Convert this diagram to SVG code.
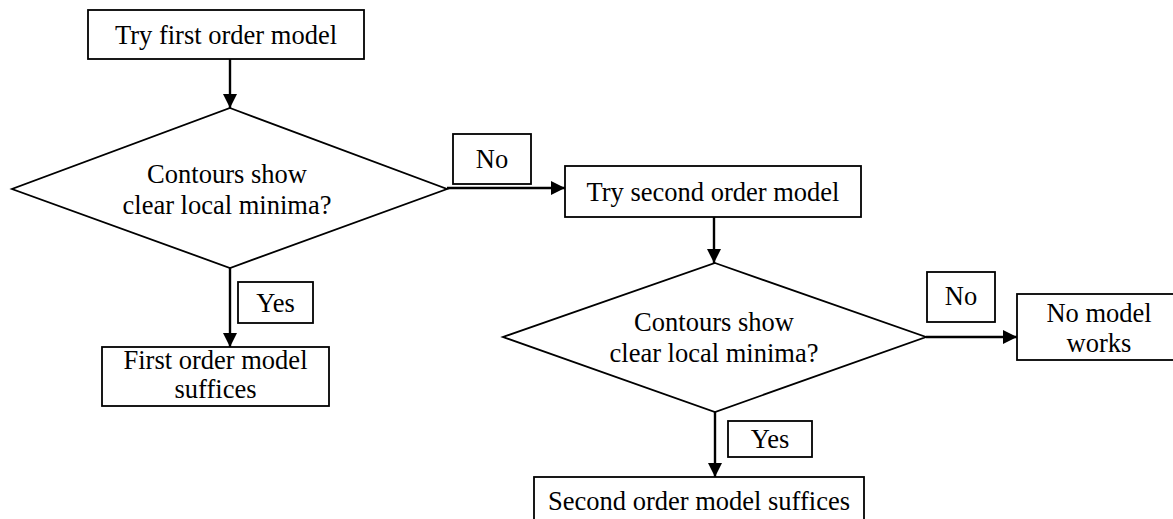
<svg xmlns="http://www.w3.org/2000/svg" width="1173" height="519" viewBox="0 0 1173 519">
<style>
.s{fill:#fff;stroke:#000;stroke-width:1.8}
.t{font-family:"Liberation Serif","Times New Roman",serif;font-size:26.5px;fill:#000;text-anchor:middle}
.c{fill:none;stroke:#000;stroke-width:2.4}
</style>
<defs>
<marker id="ah" markerUnits="userSpaceOnUse" markerWidth="16" markerHeight="16" refX="14" refY="8" orient="auto">
<path d="M0,1 L14,8 L0,15 z" fill="#000"/>
</marker>
</defs>
<rect width="1173" height="519" fill="#fff"/>
<g id="connectors">
<line class="c" x1="230" y1="59" x2="230" y2="108" marker-end="url(#ah)"/>
<line class="c" x1="447" y1="188" x2="565" y2="188" marker-end="url(#ah)"/>
<line class="c" x1="230" y1="268" x2="230" y2="347" marker-end="url(#ah)"/>
<line class="c" x1="714" y1="217" x2="714" y2="263" marker-end="url(#ah)"/>
<line class="c" x1="926" y1="337" x2="1017" y2="337" marker-end="url(#ah)"/>
<line class="c" x1="715" y1="412" x2="715" y2="477" marker-end="url(#ah)"/>
</g>
<g id="n1">
<rect class="s" x="88" y="10" width="276" height="49"/>
<text class="t" x="226" y="44">Try first order model</text>
</g>
<g id="d1">
<polygon class="s" points="230,108 447,189 230,268 12,189"/>
<text class="t" x="227" y="183">Contours show</text>
<text class="t" x="227" y="214">clear local minima?</text>
</g>
<g id="no1">
<rect class="s" x="453" y="134" width="78" height="50"/>
<text class="t" x="492" y="168">No</text>
</g>
<g id="n2">
<rect class="s" x="565" y="166" width="296" height="51"/>
<text class="t" x="713" y="201">Try second order model</text>
</g>
<g id="yes1">
<rect class="s" x="238" y="282" width="75" height="41"/>
<text class="t" x="275.5" y="312">Yes</text>
</g>
<g id="n3">
<rect class="s" x="102" y="347" width="227" height="59"/>
<text class="t" x="215.5" y="369">First order model</text>
<text class="t" x="215.5" y="398">suffices</text>
</g>
<g id="d2">
<polygon class="s" points="715,263 926,337 715,412 503,337"/>
<text class="t" x="714" y="331">Contours show</text>
<text class="t" x="714" y="362">clear local minima?</text>
</g>
<g id="no2">
<rect class="s" x="927" y="272" width="68" height="50"/>
<text class="t" x="961" y="305">No</text>
</g>
<g id="n5">
<rect class="s" x="1017" y="294" width="170" height="66"/>
<text class="t" x="1099" y="322">No model</text>
<text class="t" x="1099" y="352">works</text>
</g>
<g id="yes2">
<rect class="s" x="728" y="421" width="84" height="36"/>
<text class="t" x="770" y="448">Yes</text>
</g>
<g id="n4">
<rect class="s" x="534" y="477" width="330" height="60"/>
<text class="t" x="699" y="510">Second order model suffices</text>
</g>
</svg>
